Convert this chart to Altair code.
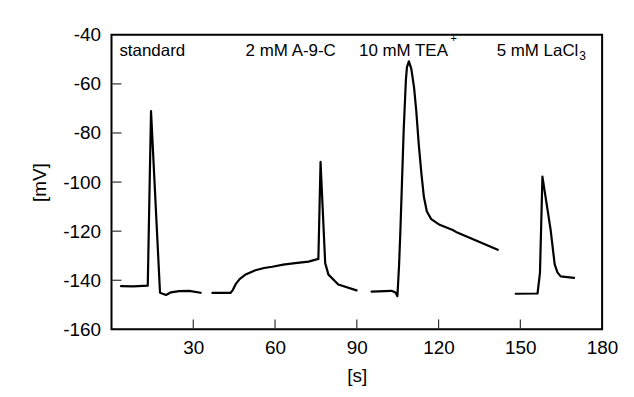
import altair as alt
import pandas as pd

# ---- data ----
t_standard = [3.5, 8.0, 13.3, 14.5, 17.8, 20.0, 21.8, 24.8, 28.5, 32.7]
v_standard = [-142.4, -142.5, -142.2, -71.1, -145.1, -146.0, -144.9, -144.4, -144.3, -145.1]

t_a9c = [37.0, 43.7, 44.5, 45.5, 47.0, 49.0, 52.8, 56.0, 59.0, 63.0, 67.4, 72.3, 75.9, 76.7, 78.4, 79.6, 83.2, 89.9]
v_a9c = [-145.1, -145.1, -144.0, -141.7, -139.5, -137.8, -135.9, -135.0, -134.5, -133.6, -133.0, -132.4, -131.3, -91.8, -133.0, -137.7, -141.7, -144.1]

t_tea = [95.4, 102.7, 104.2, 104.9, 105.5, 106.0, 106.6, 107.2, 108.0, 108.4, 109.1, 110.0, 111.0, 111.8,
         112.7, 113.7, 114.6, 115.7, 117.3, 120.4, 125.2, 126.4, 133.1, 141.7]
v_tea = [-144.6, -144.3, -145.0, -146.5, -134.0, -119.4, -99.2, -78.9, -58.6, -53.2, -50.8, -53.9, -61.4, -70.8,
         -84.3, -96.5, -106.0, -112.0, -115.1, -117.4, -119.5, -120.3, -123.5, -127.6]

t_la = [148.3, 156.3, 157.2, 158.1, 161.1, 162.6, 163.6, 164.8, 169.7]
v_la = [-145.5, -145.4, -137.0, -97.8, -119.4, -133.5, -136.8, -138.4, -139.0]

x_ticks = [30, 60, 90, 120, 150, 180]
y_ticks = [-160, -140, -120, -100, -80, -60, -40]

label_text = ["standard", "2 mM A-9-C", "10 mM TEA", "5 mM LaCl"]
label_t = [2.9, 49.2, 90.8, 141.3]
label_v = [-48.5, -48.5, -48.5, -48.5]

sup_text = ["+"]
sup_t = [124.4]
sup_v = [-42.8]

sub_text = ["3"]
sub_t = [171.6]
sub_v = [-50.2]

# ---- tables ----
rows = []
for name, ts, vs in [("standard", t_standard, v_standard), ("a9c", t_a9c, v_a9c),
                     ("tea", t_tea, v_tea), ("la", t_la, v_la)]:
    for t, v in zip(ts, vs):
        rows.append({"trace": name, "t": t, "v": v})
traces = pd.DataFrame(rows)

FONT = "Liberation Sans"
W, H = 493, 296

xscale = alt.Scale(domain=[0, 180], nice=False, zero=False)
yscale = alt.Scale(domain=[-160, -40], nice=False, zero=False)

x_axis = alt.Axis(values=x_ticks, ticks=False, domain=False, grid=False, labelFontSize=19,
                  labelFont=FONT, labelColor="black", labelPadding=9, title="[s]",
                  labelExpr="datum.value + ''",
                  titleFont=FONT, titleFontSize=19, titleFontWeight="normal", titleColor="black",
                  titlePadding=9, labelFlush=False)
y_axis = alt.Axis(values=y_ticks, ticks=False, domain=False, grid=False, labelFontSize=19,
                  labelFont=FONT, labelColor="black", labelPadding=11, title="[mV]",
                  labelExpr="datum.value + ''",
                  titleFont=FONT, titleFontSize=19, titleFontWeight="normal", titleColor="black",
                  titlePadding=13, labelFlush=False)

lines = alt.Chart(traces).mark_line(color="black", strokeWidth=2.2, strokeJoin="round",
                                    strokeCap="round").encode(
    x=alt.X("t:Q", scale=xscale, axis=x_axis),
    y=alt.Y("v:Q", scale=yscale, axis=y_axis),
    detail="trace:N",
)

xt = alt.Chart(pd.DataFrame({"t": x_ticks[:-1]})).mark_rule(color="#333", strokeWidth=1.2).encode(
    x=alt.X("t:Q", scale=xscale),
    y=alt.value(H), y2=alt.value(H - 10),
)
yt = alt.Chart(pd.DataFrame({"v": y_ticks[1:-1]})).mark_rule(color="#333", strokeWidth=1.2).encode(
    y=alt.Y("v:Q", scale=yscale),
    x=alt.value(0), x2=alt.value(10),
)

labels = alt.Chart(pd.DataFrame({"t": label_t, "v": label_v, "s": label_text})).mark_text(
    font=FONT, fontSize=17, align="left", baseline="alphabetic", color="black").encode(
    x=alt.X("t:Q", scale=xscale), y=alt.Y("v:Q", scale=yscale), text="s:N")

sups = alt.Chart(pd.DataFrame({"t": sup_t, "v": sup_v, "s": sup_text})).mark_text(
    font=FONT, fontSize=11, align="left", baseline="alphabetic", color="black").encode(
    x=alt.X("t:Q", scale=xscale), y=alt.Y("v:Q", scale=yscale), text="s:N")

subs = alt.Chart(pd.DataFrame({"t": sub_t, "v": sub_v, "s": sub_text})).mark_text(
    font=FONT, fontSize=12, align="left", baseline="alphabetic", color="black").encode(
    x=alt.X("t:Q", scale=xscale), y=alt.Y("v:Q", scale=yscale), text="s:N")

chart = alt.layer(lines, xt, yt, labels, sups, subs).properties(
    width=W, height=H,
    autosize=alt.AutoSizeParams(type="none"),
    padding={"left": 104, "top": 26, "right": 24, "bottom": 60},
).configure(
    background="white",
    view=alt.ViewConfig(stroke="black", strokeWidth=2),
)

chart.save("out.html", embed_options={"renderer": "svg", "actions": False})
